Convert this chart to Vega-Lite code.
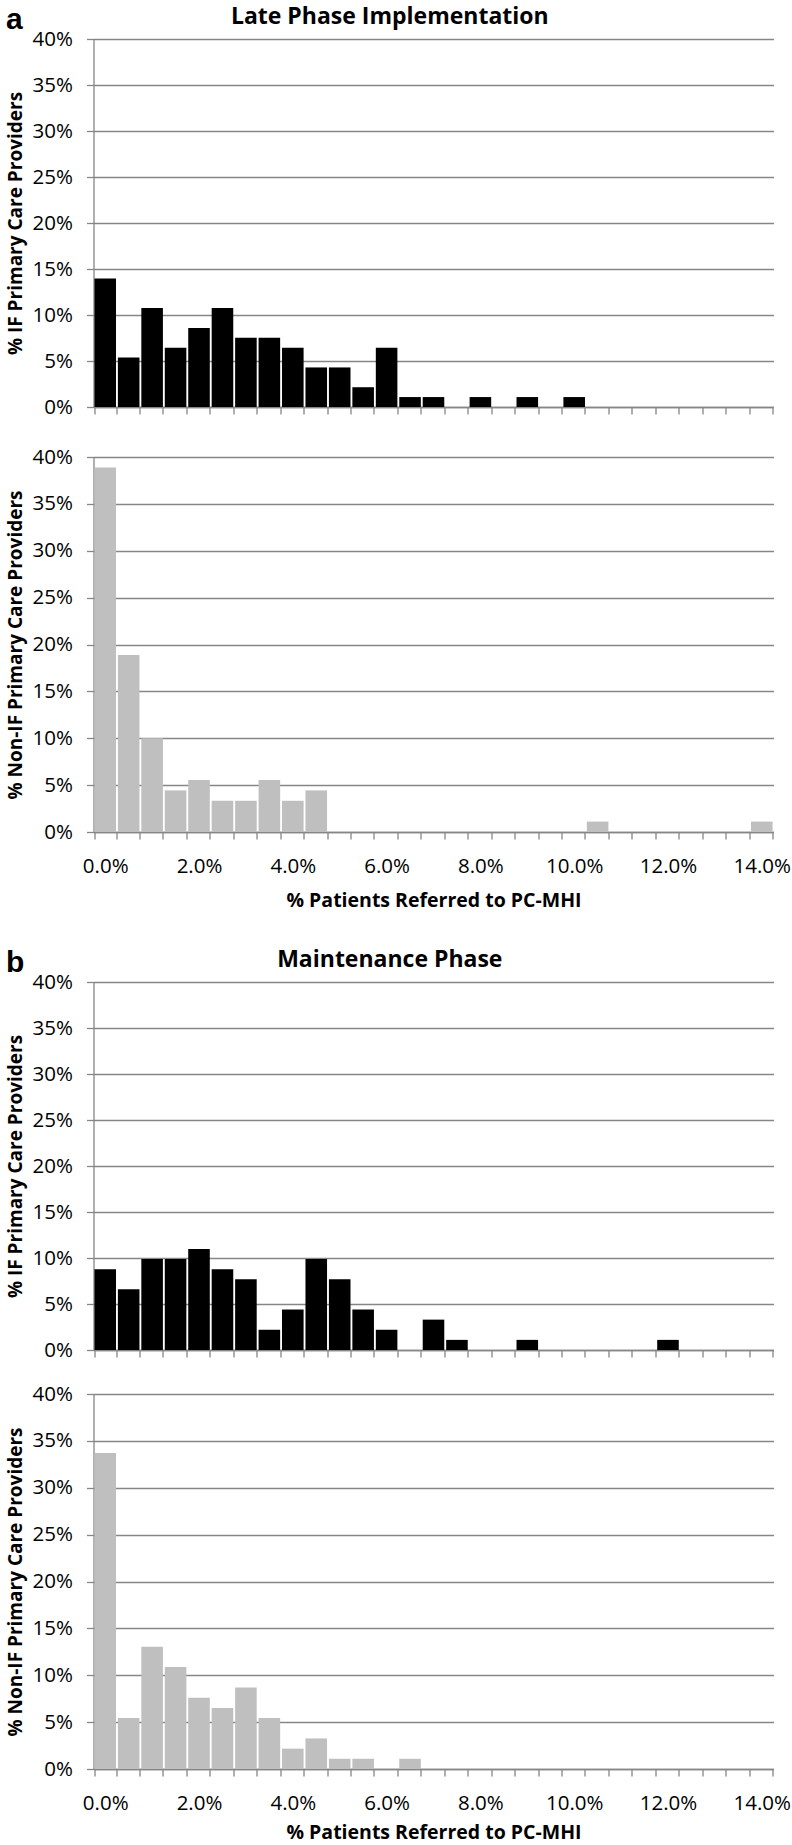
{
  "$schema": "https://vega.github.io/schema/vega-lite/v6.json",
  "background": "white",
  "padding": {"left": 5.5, "top": 4, "right": 2, "bottom": 4},
  "datasets": {
    "hist": [
      {"phase": "late", "group": "IF", "bin": 0, "pct": 13.98},
      {"phase": "late", "group": "IF", "bin": 0.5, "pct": 5.38},
      {"phase": "late", "group": "IF", "bin": 1, "pct": 10.75},
      {"phase": "late", "group": "IF", "bin": 1.5, "pct": 6.45},
      {"phase": "late", "group": "IF", "bin": 2, "pct": 8.60},
      {"phase": "late", "group": "IF", "bin": 2.5, "pct": 10.75},
      {"phase": "late", "group": "IF", "bin": 3, "pct": 7.53},
      {"phase": "late", "group": "IF", "bin": 3.5, "pct": 7.53},
      {"phase": "late", "group": "IF", "bin": 4, "pct": 6.45},
      {"phase": "late", "group": "IF", "bin": 4.5, "pct": 4.30},
      {"phase": "late", "group": "IF", "bin": 5, "pct": 4.30},
      {"phase": "late", "group": "IF", "bin": 5.5, "pct": 2.15},
      {"phase": "late", "group": "IF", "bin": 6, "pct": 6.45},
      {"phase": "late", "group": "IF", "bin": 6.5, "pct": 1.08},
      {"phase": "late", "group": "IF", "bin": 7, "pct": 1.08},
      {"phase": "late", "group": "IF", "bin": 7.5, "pct": 0},
      {"phase": "late", "group": "IF", "bin": 8, "pct": 1.08},
      {"phase": "late", "group": "IF", "bin": 8.5, "pct": 0},
      {"phase": "late", "group": "IF", "bin": 9, "pct": 1.08},
      {"phase": "late", "group": "IF", "bin": 9.5, "pct": 0},
      {"phase": "late", "group": "IF", "bin": 10, "pct": 1.08},
      {"phase": "late", "group": "IF", "bin": 10.5, "pct": 0},
      {"phase": "late", "group": "IF", "bin": 11, "pct": 0},
      {"phase": "late", "group": "IF", "bin": 11.5, "pct": 0},
      {"phase": "late", "group": "IF", "bin": 12, "pct": 0},
      {"phase": "late", "group": "IF", "bin": 12.5, "pct": 0},
      {"phase": "late", "group": "IF", "bin": 13, "pct": 0},
      {"phase": "late", "group": "IF", "bin": 13.5, "pct": 0},
      {"phase": "late", "group": "IF", "bin": 14, "pct": 0},

      {"phase": "late", "group": "nonIF", "bin": 0, "pct": 38.89},
      {"phase": "late", "group": "nonIF", "bin": 0.5, "pct": 18.89},
      {"phase": "late", "group": "nonIF", "bin": 1, "pct": 10.00},
      {"phase": "late", "group": "nonIF", "bin": 1.5, "pct": 4.44},
      {"phase": "late", "group": "nonIF", "bin": 2, "pct": 5.56},
      {"phase": "late", "group": "nonIF", "bin": 2.5, "pct": 3.33},
      {"phase": "late", "group": "nonIF", "bin": 3, "pct": 3.33},
      {"phase": "late", "group": "nonIF", "bin": 3.5, "pct": 5.56},
      {"phase": "late", "group": "nonIF", "bin": 4, "pct": 3.33},
      {"phase": "late", "group": "nonIF", "bin": 4.5, "pct": 4.44},
      {"phase": "late", "group": "nonIF", "bin": 5, "pct": 0},
      {"phase": "late", "group": "nonIF", "bin": 5.5, "pct": 0},
      {"phase": "late", "group": "nonIF", "bin": 6, "pct": 0},
      {"phase": "late", "group": "nonIF", "bin": 6.5, "pct": 0},
      {"phase": "late", "group": "nonIF", "bin": 7, "pct": 0},
      {"phase": "late", "group": "nonIF", "bin": 7.5, "pct": 0},
      {"phase": "late", "group": "nonIF", "bin": 8, "pct": 0},
      {"phase": "late", "group": "nonIF", "bin": 8.5, "pct": 0},
      {"phase": "late", "group": "nonIF", "bin": 9, "pct": 0},
      {"phase": "late", "group": "nonIF", "bin": 9.5, "pct": 0},
      {"phase": "late", "group": "nonIF", "bin": 10, "pct": 0},
      {"phase": "late", "group": "nonIF", "bin": 10.5, "pct": 1.11},
      {"phase": "late", "group": "nonIF", "bin": 11, "pct": 0},
      {"phase": "late", "group": "nonIF", "bin": 11.5, "pct": 0},
      {"phase": "late", "group": "nonIF", "bin": 12, "pct": 0},
      {"phase": "late", "group": "nonIF", "bin": 12.5, "pct": 0},
      {"phase": "late", "group": "nonIF", "bin": 13, "pct": 0},
      {"phase": "late", "group": "nonIF", "bin": 13.5, "pct": 0},
      {"phase": "late", "group": "nonIF", "bin": 14, "pct": 1.11},

      {"phase": "maint", "group": "IF", "bin": 0, "pct": 8.79},
      {"phase": "maint", "group": "IF", "bin": 0.5, "pct": 6.59},
      {"phase": "maint", "group": "IF", "bin": 1, "pct": 9.89},
      {"phase": "maint", "group": "IF", "bin": 1.5, "pct": 9.89},
      {"phase": "maint", "group": "IF", "bin": 2, "pct": 10.99},
      {"phase": "maint", "group": "IF", "bin": 2.5, "pct": 8.79},
      {"phase": "maint", "group": "IF", "bin": 3, "pct": 7.69},
      {"phase": "maint", "group": "IF", "bin": 3.5, "pct": 2.20},
      {"phase": "maint", "group": "IF", "bin": 4, "pct": 4.40},
      {"phase": "maint", "group": "IF", "bin": 4.5, "pct": 9.89},
      {"phase": "maint", "group": "IF", "bin": 5, "pct": 7.69},
      {"phase": "maint", "group": "IF", "bin": 5.5, "pct": 4.40},
      {"phase": "maint", "group": "IF", "bin": 6, "pct": 2.20},
      {"phase": "maint", "group": "IF", "bin": 6.5, "pct": 0},
      {"phase": "maint", "group": "IF", "bin": 7, "pct": 3.30},
      {"phase": "maint", "group": "IF", "bin": 7.5, "pct": 1.10},
      {"phase": "maint", "group": "IF", "bin": 8, "pct": 0},
      {"phase": "maint", "group": "IF", "bin": 8.5, "pct": 0},
      {"phase": "maint", "group": "IF", "bin": 9, "pct": 1.10},
      {"phase": "maint", "group": "IF", "bin": 9.5, "pct": 0},
      {"phase": "maint", "group": "IF", "bin": 10, "pct": 0},
      {"phase": "maint", "group": "IF", "bin": 10.5, "pct": 0},
      {"phase": "maint", "group": "IF", "bin": 11, "pct": 0},
      {"phase": "maint", "group": "IF", "bin": 11.5, "pct": 0},
      {"phase": "maint", "group": "IF", "bin": 12, "pct": 1.10},
      {"phase": "maint", "group": "IF", "bin": 12.5, "pct": 0},
      {"phase": "maint", "group": "IF", "bin": 13, "pct": 0},
      {"phase": "maint", "group": "IF", "bin": 13.5, "pct": 0},
      {"phase": "maint", "group": "IF", "bin": 14, "pct": 0},

      {"phase": "maint", "group": "nonIF", "bin": 0, "pct": 33.70},
      {"phase": "maint", "group": "nonIF", "bin": 0.5, "pct": 5.43},
      {"phase": "maint", "group": "nonIF", "bin": 1, "pct": 13.04},
      {"phase": "maint", "group": "nonIF", "bin": 1.5, "pct": 10.87},
      {"phase": "maint", "group": "nonIF", "bin": 2, "pct": 7.61},
      {"phase": "maint", "group": "nonIF", "bin": 2.5, "pct": 6.52},
      {"phase": "maint", "group": "nonIF", "bin": 3, "pct": 8.70},
      {"phase": "maint", "group": "nonIF", "bin": 3.5, "pct": 5.43},
      {"phase": "maint", "group": "nonIF", "bin": 4, "pct": 2.17},
      {"phase": "maint", "group": "nonIF", "bin": 4.5, "pct": 3.26},
      {"phase": "maint", "group": "nonIF", "bin": 5, "pct": 1.09},
      {"phase": "maint", "group": "nonIF", "bin": 5.5, "pct": 1.09},
      {"phase": "maint", "group": "nonIF", "bin": 6, "pct": 0},
      {"phase": "maint", "group": "nonIF", "bin": 6.5, "pct": 1.09},
      {"phase": "maint", "group": "nonIF", "bin": 7, "pct": 0},
      {"phase": "maint", "group": "nonIF", "bin": 7.5, "pct": 0},
      {"phase": "maint", "group": "nonIF", "bin": 8, "pct": 0},
      {"phase": "maint", "group": "nonIF", "bin": 8.5, "pct": 0},
      {"phase": "maint", "group": "nonIF", "bin": 9, "pct": 0},
      {"phase": "maint", "group": "nonIF", "bin": 9.5, "pct": 0},
      {"phase": "maint", "group": "nonIF", "bin": 10, "pct": 0},
      {"phase": "maint", "group": "nonIF", "bin": 10.5, "pct": 0},
      {"phase": "maint", "group": "nonIF", "bin": 11, "pct": 0},
      {"phase": "maint", "group": "nonIF", "bin": 11.5, "pct": 0},
      {"phase": "maint", "group": "nonIF", "bin": 12, "pct": 0},
      {"phase": "maint", "group": "nonIF", "bin": 12.5, "pct": 0},
      {"phase": "maint", "group": "nonIF", "bin": 13, "pct": 0},
      {"phase": "maint", "group": "nonIF", "bin": 13.5, "pct": 0},
      {"phase": "maint", "group": "nonIF", "bin": 14, "pct": 0}
    ]
  },
  "config": {
    "font": "Open Sans",
    "view": {"stroke": null},
    "axisX": {
      "tickBand": "extent",
      "ticks": true,
      "tickSize": 7,
      "tickColor": "#868686",
      "tickWidth": 1.3,
      "domainColor": "#868686",
      "domainWidth": 1.3,
      "labelAngle": 0,
      "labelPadding": 17.5,
      "labelFontSize": 20.5,
      "labelColor": "#000000",
      "titleFontSize": 19.5,
      "titleFontWeight": "bold",
      "titleColor": "#000000",
      "titlePadding": 14,
      "grid": false
    },
    "axisY": {
      "grid": true,
      "gridColor": "#868686",
      "gridWidth": 1.3,
      "ticks": true,
      "tickSize": 7,
      "tickColor": "#868686",
      "tickWidth": 1.3,
      "domainColor": "#868686",
      "domainWidth": 1.3,
      "labelPadding": 14,
      "labelFontSize": 20.5,
      "labelColor": "#000000",
      "titleFontSize": 19,
      "titleFontWeight": "bold",
      "titleColor": "#000000",
      "titlePadding": 7
    },
    "title": {"fontSize": 23, "fontWeight": "bold", "color": "#000000"}
  },
  "spacing": 37,
  "vconcat": [
    {
      "title": {"text": "a", "anchor": "start", "frame": "bounds", "font": "Liberation Sans", "fontSize": 30, "fontWeight": "bold", "offset": -28.5},
      "spacing": 29,
      "vconcat": [
        {
          "title": {"text": "Late Phase Implementation", "anchor": "middle", "frame": "bounds", "offset": 0},
          "width": 680,
          "height": 368,
          "data": {"name": "hist"},
          "transform": [{"filter": "datum.phase === 'late' && datum.group === 'IF'"}],
          "mark": {"type": "bar", "color": "#000000"},
          "encoding": {
            "x": {"field": "bin", "type": "ordinal", "scale": {"paddingInner": 0.08, "paddingOuter": 0.04}, "axis": {"labels": false, "title": null}},
            "y": {"field": "pct", "type": "quantitative", "scale": {"domain": [0, 40], "nice": false}, "axis": {"title": "% IF Primary Care Providers", "values": [0, 5, 10, 15, 20, 25, 30, 35, 40], "labelExpr": "datum.value + '%'"}}
          }
        },
        {
          "width": 680,
          "height": 375,
          "data": {"name": "hist"},
          "transform": [{"filter": "datum.phase === 'late' && datum.group === 'nonIF'"}],
          "mark": {"type": "bar", "color": "#bfbfbf"},
          "encoding": {
            "x": {"field": "bin", "type": "ordinal", "scale": {"paddingInner": 0.08, "paddingOuter": 0.04}, "axis": {"title": "% Patients Referred to PC-MHI", "labelExpr": "datum.value % 2 === 0 ? format(datum.value, '.1f') + '%' : ''"}},
            "y": {"field": "pct", "type": "quantitative", "scale": {"domain": [0, 40], "nice": false}, "axis": {"title": "% Non-IF Primary Care Providers", "values": [0, 5, 10, 15, 20, 25, 30, 35, 40], "labelExpr": "datum.value + '%'"}}
          }
        }
      ]
    },
    {
      "title": {"text": "b", "anchor": "start", "frame": "bounds", "font": "Liberation Sans", "fontSize": 30, "fontWeight": "bold", "offset": -28.5},
      "spacing": 23,
      "vconcat": [
        {
          "title": {"text": "Maintenance Phase", "anchor": "middle", "frame": "bounds", "offset": 0},
          "width": 680,
          "height": 368,
          "data": {"name": "hist"},
          "transform": [{"filter": "datum.phase === 'maint' && datum.group === 'IF'"}],
          "mark": {"type": "bar", "color": "#000000"},
          "encoding": {
            "x": {"field": "bin", "type": "ordinal", "scale": {"paddingInner": 0.08, "paddingOuter": 0.04}, "axis": {"labels": false, "title": null}},
            "y": {"field": "pct", "type": "quantitative", "scale": {"domain": [0, 40], "nice": false}, "axis": {"title": "% IF Primary Care Providers", "values": [0, 5, 10, 15, 20, 25, 30, 35, 40], "labelExpr": "datum.value + '%'"}}
          }
        },
        {
          "width": 680,
          "height": 375,
          "data": {"name": "hist"},
          "transform": [{"filter": "datum.phase === 'maint' && datum.group === 'nonIF'"}],
          "mark": {"type": "bar", "color": "#bfbfbf"},
          "encoding": {
            "x": {"field": "bin", "type": "ordinal", "scale": {"paddingInner": 0.08, "paddingOuter": 0.04}, "axis": {"title": "% Patients Referred to PC-MHI", "titlePadding": 9, "labelExpr": "datum.value % 2 === 0 ? format(datum.value, '.1f') + '%' : ''"}},
            "y": {"field": "pct", "type": "quantitative", "scale": {"domain": [0, 40], "nice": false}, "axis": {"title": "% Non-IF Primary Care Providers", "values": [0, 5, 10, 15, 20, 25, 30, 35, 40], "labelExpr": "datum.value + '%'"}}
          }
        }
      ]
    }
  ]
}
